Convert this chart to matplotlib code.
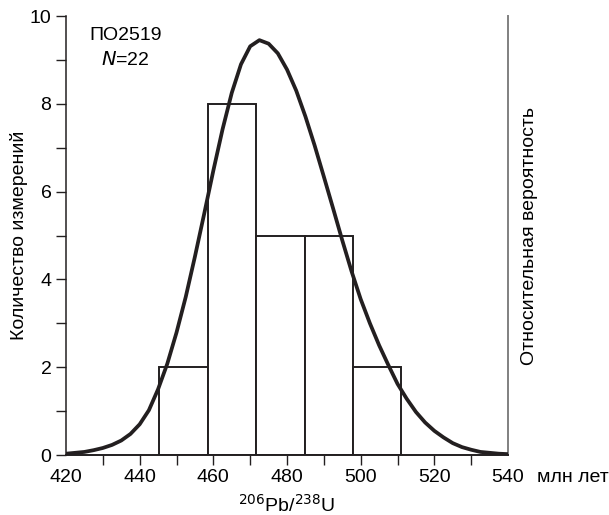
import numpy as np
import matplotlib
matplotlib.use('Agg')
import matplotlib.pyplot as plt

plt.rcParams['font.family'] = ['Liberation Sans', 'DejaVu Sans']

# histogram of ages (bin edges, counts)
bin_edges = [445.3, 458.5, 471.6, 484.8, 497.9, 511.0]
counts = [2, 8, 5, 5, 2]

# relative probability curve, every 2.5 Ma
curve_x = [420, 422.5, 425, 427.5, 430, 432.5, 435, 437.5, 440, 442.5,
           445, 447.5, 450, 452.5, 455, 457.5, 460, 462.5, 465, 467.5,
           470, 472.5, 475, 477.5, 480, 482.5, 485, 487.5, 490, 492.5,
           495, 497.5, 500, 502.5, 505, 507.5, 510, 512.5, 515, 517.5,
           520, 522.5, 525, 527.5, 530, 532.5, 535, 537.5, 540]
curve_y = [0.03, 0.05, 0.07, 0.11, 0.16, 0.23, 0.33, 0.48, 0.70, 1.02,
           1.50, 2.08, 2.79, 3.60, 4.52, 5.49, 6.48, 7.42, 8.25, 8.90,
           9.31, 9.45, 9.37, 9.15, 8.78, 8.30, 7.71, 7.05, 6.34, 5.62,
           4.89, 4.19, 3.55, 3.00, 2.50, 2.05, 1.62, 1.28, 0.98, 0.74,
           0.55, 0.40, 0.27, 0.18, 0.12, 0.07, 0.05, 0.03, 0.02]

x_major = [420, 440, 460, 480, 500, 520, 540]
x_minor = [430, 450, 470, 490, 510, 530]

ink = '#231f20'

fig = plt.figure(figsize=(6.09, 5.15), dpi=100)
ax = fig.add_axes([0.1084, 0.1165, 0.7258, 0.8524])

widths = np.diff(bin_edges)
ax.bar(bin_edges[:-1], counts, width=widths, align='edge', facecolor='white',
       edgecolor=ink, linewidth=1.4, zorder=2)
ax.plot(curve_x, curve_y, color=ink, lw=2.7, solid_joinstyle='round', zorder=3)

ax.set_xlim(420, 540)
ax.set_ylim(0, 10)

ax.set_xticks(x_major)
ax.set_xticklabels([str(v) for v in x_major])
ax.set_xticks(x_minor, minor=True)
ax.set_yticks([0, 2, 4, 6, 8, 10])
ax.set_yticks([1, 3, 5, 7, 9], minor=True)
ax.tick_params(axis='both', which='both', direction='out', length=7.5,
               width=1.0, color=ink, labelsize=14, pad=3)
ax.tick_params(axis='x', which='both', pad=2.5)
xt = ax.xaxis.get_major_ticks()
xt[0].tick1line.set_visible(False)
xt[-1].tick1line.set_visible(False)

ax.spines['top'].set_visible(False)
ax.spines['left'].set_color(ink)
ax.spines['left'].set_linewidth(1.1)
ax.spines['bottom'].set_color(ink)
ax.spines['bottom'].set_linewidth(1.4)
ax.spines['right'].set_color('#808080')
ax.spines['right'].set_linewidth(1.4)

ax.set_ylabel('Количество измерений', fontsize=14, labelpad=1)
ax.set_xlabel(r'$^{206}$Pb/$^{238}$U', fontsize=14, labelpad=6)

ax2 = ax.twinx()
ax2.set_yticks([])
for s in ax2.spines.values():
    s.set_visible(False)
ax2.set_ylabel('Относительная вероятность', fontsize=14, labelpad=9)

ax.annotate('млн лет', xy=(540, 0), xytext=(21, -10), textcoords='offset points',
            ha='left', va='top', fontsize=14)

ax.text(0.134, 0.955, 'ПО2519', transform=ax.transAxes, ha='center', va='center',
        fontsize=14)
ax.text(0.134, 0.9, r'$\it{N}$=22', transform=ax.transAxes, ha='center',
        va='center', fontsize=14)

fig.savefig('out.png', dpi=100)
